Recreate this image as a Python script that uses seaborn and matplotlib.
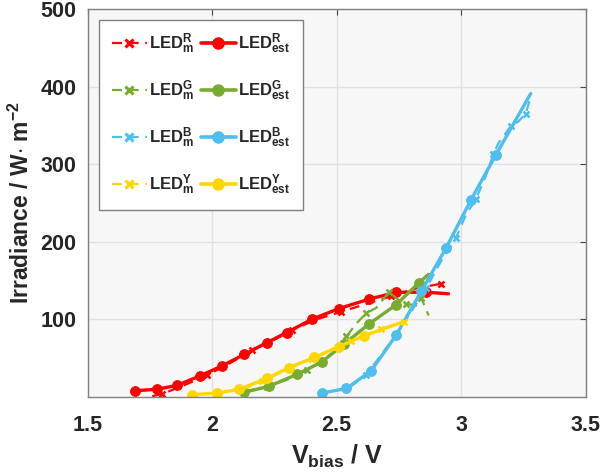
import numpy as np
import pandas as pd
import seaborn as sns
import matplotlib
matplotlib.use("Agg")
import matplotlib.pyplot as plt
from matplotlib.lines import Line2D

# ---- data ----
red_m_v = [1.76, 1.80, 1.88, 1.98, 2.08, 2.16, 2.24, 2.32, 2.42, 2.52, 2.62, 2.72, 2.82, 2.92]
red_m_i = [1, 4, 14, 28, 45, 60, 72, 86, 100, 110, 120, 130, 140, 146]
red_e_v = [1.69, 1.78, 1.86, 1.95, 2.04, 2.13, 2.22, 2.30, 2.40, 2.51, 2.63, 2.74, 2.86, 2.95]
red_e_i = [8, 10, 15, 27, 40, 55, 70, 83, 100, 114, 126, 135, 135, 133]

green_m_v = [2.14, 2.22, 2.30, 2.38, 2.46, 2.54, 2.58, 2.62, 2.66, 2.71, 2.75, 2.78, 2.82, 2.84, 2.87]
green_m_i = [8, 13, 22, 35, 50, 78, 95, 108, 115, 135, 125, 120, 118, 128, 105]
green_e_v = [2.13, 2.23, 2.34, 2.44, 2.53, 2.63, 2.74, 2.83, 2.87]
green_e_i = [6, 14, 29, 45, 68, 94, 119, 147, 158]

blue_m_v = [2.55, 2.62, 2.68, 2.74, 2.80, 2.86, 2.92, 2.98, 3.02, 3.06, 3.10, 3.13, 3.15, 3.20, 3.23, 3.26, 3.28]
blue_m_i = [12, 28, 55, 80, 110, 140, 175, 205, 235, 255, 285, 313, 327, 349, 355, 365, 387]
blue_e_v = [2.44, 2.54, 2.64, 2.74, 2.84, 2.94, 3.04, 3.14, 3.28]
blue_e_i = [5, 11, 34, 80, 136, 192, 254, 312, 391]

yellow_m_v = [2.12, 2.20, 2.30, 2.40, 2.50, 2.56, 2.62, 2.68, 2.74, 2.77]
yellow_m_i = [9, 20, 35, 49, 62, 72, 80, 88, 94, 97]
yellow_e_v = [1.92, 2.02, 2.11, 2.22, 2.31, 2.41, 2.51, 2.61, 2.77]
yellow_e_i = [3, 5, 10, 24, 38, 51, 65, 79, 97]

x_ticks = [1.5, 2, 2.5, 3, 3.5]
x_tick_labels = ["1.5", "2", "2.5", "3", "3.5"]
y_ticks = [100, 200, 300, 400, 500]
y_tick_labels = ["100", "200", "300", "400", "500"]

colors = {"R": "#FF0000", "G": "#77AC30", "B": "#4DBEEE", "Y": "#FFD700"}

sns.set_theme(style="whitegrid")
plt.rcParams["font.family"] = ["Liberation Sans", "DejaVu Sans"]
plt.rcParams["font.weight"] = "bold"
plt.rcParams["mathtext.fontset"] = "custom"
plt.rcParams["mathtext.rm"] = "Liberation Sans:bold"
plt.rcParams["mathtext.it"] = "Liberation Sans:bold"
plt.rcParams["mathtext.bf"] = "Liberation Sans:bold"

fig = plt.figure(figsize=(6.02, 4.74), dpi=100)
ax = fig.add_axes([87.5 / 602, 77 / 474, 498 / 602, 388 / 474])
ax.set_facecolor("#F7F7F7")

series = [
    ("R", red_m_v, red_m_i, red_e_v, red_e_i),
    ("G", green_m_v, green_m_i, green_e_v, green_e_i),
    ("B", blue_m_v, blue_m_i, blue_e_v, blue_e_i),
    ("Y", yellow_m_v, yellow_m_i, yellow_e_v, yellow_e_i),
]

dash = (0, (4.5, 3))
m_handles, e_handles = [], []
for key, mv, mi, ev, ei in series:
    c = colors[key]
    sns.lineplot(x=mv, y=mi, ax=ax, sort=False, estimator=None, color=c,
                 linestyle=dash, linewidth=1.6, marker="x", markersize=4.5,
                 markeredgewidth=1.8, markeredgecolor=c,
                 markevery=list(range(1, len(mv), 2)))
    n = len(ev)
    sns.lineplot(x=ev, y=ei, ax=ax, sort=False, estimator=None, color=c,
                 linewidth=2.4, marker="o", markersize=7, markeredgecolor=c,
                 markevery=list(range(n - 1)))
    m_handles.append(Line2D([], [], color=c, linestyle=dash, linewidth=1.6,
                            marker="x", markersize=6, markeredgewidth=2.2))
    e_handles.append(Line2D([], [], color=c, linestyle="-", linewidth=2.6,
                            marker="o", markersize=8))

ax.set_xlim(1.5, 3.5)
ax.set_ylim(0, 500)
ax.set_xticks(x_ticks)
ax.set_xticklabels(x_tick_labels)
ax.set_yticks(y_ticks)
ax.set_yticklabels(y_tick_labels)
ax.grid(True, color="#E2E2E2", linewidth=1)
ax.tick_params(axis="both", which="both", direction="in", length=4, width=0.8,
               color="#444444", labelsize=15.5, labelcolor="#262626",
               top=True, right=True)
ax.tick_params(axis="y", pad=8)
ax.tick_params(axis="x", pad=13)
for lbl in ax.get_xticklabels() + ax.get_yticklabels():
    lbl.set_fontweight("bold")
for sp in ax.spines.values():
    sp.set_visible(True)
    sp.set_color("#808080")
    sp.set_linewidth(1.0)

ax.set_xlabel(r"V$_{\mathrm{bias}}$ / V", fontsize=18, fontweight="bold", color="#262626", labelpad=5)
ax.set_ylabel(r"Irradiance / W$\cdot$ m$^{\mathrm{-2}}$", fontsize=16.5, fontweight="bold", color="#262626", labelpad=5)

labels_m = [r"LED$^{\mathrm{%s}}_{\mathrm{m}}$" % k for k in "RGBY"]
labels_e = [r"LED$^{\mathrm{%s}}_{\mathrm{est}}$" % k for k in "RGBY"]
leg = ax.legend(m_handles + e_handles, labels_m + labels_e, ncol=2,
                loc="upper left", bbox_to_anchor=(11.5 / 498, 1 - 10.5 / 388),
                borderaxespad=0, numpoints=1,
                frameon=True, fancybox=False, framealpha=1,
                edgecolor="#808080", handlelength=2.1, handletextpad=0.15,
                columnspacing=0.4, labelspacing=1.35, borderpad=0.75,
                prop={"weight": "bold", "size": 12})
leg.get_frame().set_linewidth(1.0)

fig.savefig("out.png", dpi=100)
